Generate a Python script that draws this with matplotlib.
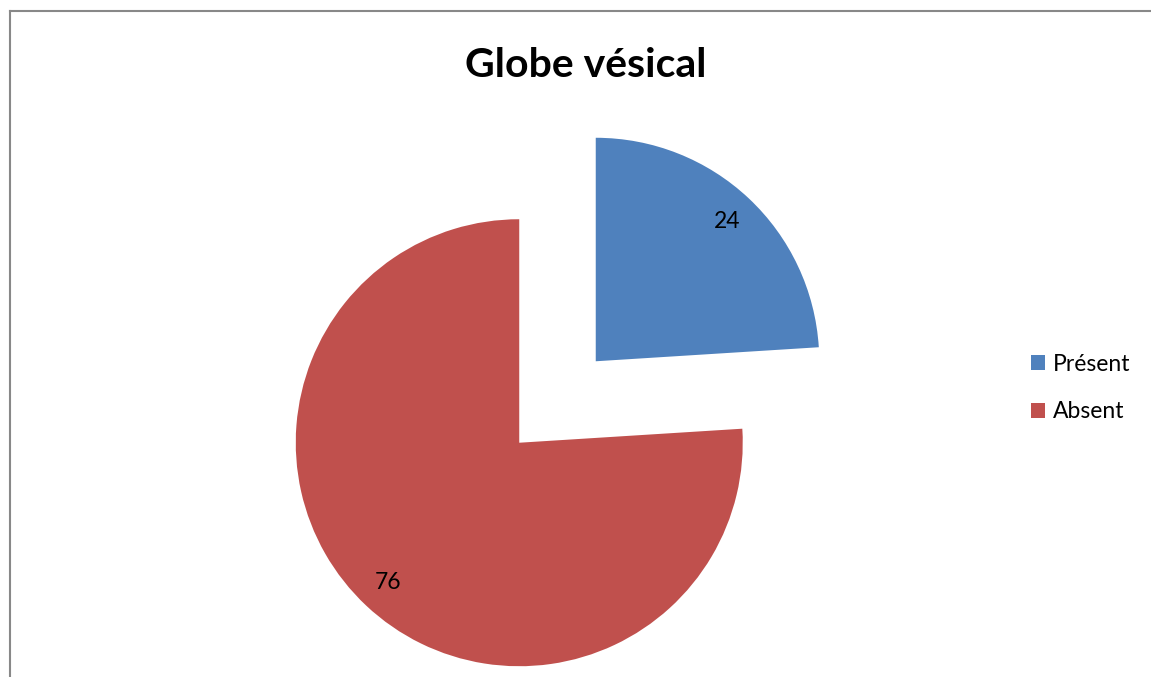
import matplotlib
matplotlib.use("Agg")
import matplotlib.pyplot as plt
from matplotlib.lines import Line2D

categories = ["Présent", "Absent"]
values = [24, 76]
colors = ["#4F81BD", "#C0504D"]
title = "Globe vésical"

W, H = 1151, 677
plt.rcParams['font.family'] = ['Lato', 'DejaVu Sans']
fig = plt.figure(figsize=(W / 100, H / 100), dpi=100)
ax = fig.add_axes([0, 0, 1, 1])

R = 223.5            # pie radius in px
cx, cy = 557.5, 402  # unexploded centre (px from top-left)

wedges, texts = ax.pie(values, colors=colors, startangle=90, counterclock=False,
                       explode=[0.25, 0.25], radius=1.0,
                       labels=[str(v) for v in values], labeldistance=0.86,
                       textprops=dict(fontsize=16.5, color='black', ha='center', va='center'))
ax.set_aspect('auto')
ax.set_xlim(-cx / R, (W - cx) / R)
ax.set_ylim(-(H - cy) / R, cy / R)
ax.axis('off')

fig.text(586 / W, 1 - 77 / H, title, ha='center', va='baseline',
         fontsize=29.5, fontweight='bold')

leg = ax.legend(wedges, categories, loc='center left',
                bbox_to_anchor=(1031 / W, 1 - 388 / H), bbox_transform=fig.transFigure,
                frameon=False, fontsize=16.5, handlelength=0.61, handleheight=0.61,
                handletextpad=0.35, labelspacing=1.16, borderpad=0, borderaxespad=0)

# chart-area border (left and top edges visible)
fig.add_artist(Line2D([10 / W, 10 / W], [-0.05, 1 - 11 / H], transform=fig.transFigure,
                      color='#888888', linewidth=1.5))
fig.add_artist(Line2D([10 / W, 1.05], [1 - 11 / H, 1 - 11 / H], transform=fig.transFigure,
                      color='#888888', linewidth=1.5))

fig.savefig("out.png", dpi=100)
